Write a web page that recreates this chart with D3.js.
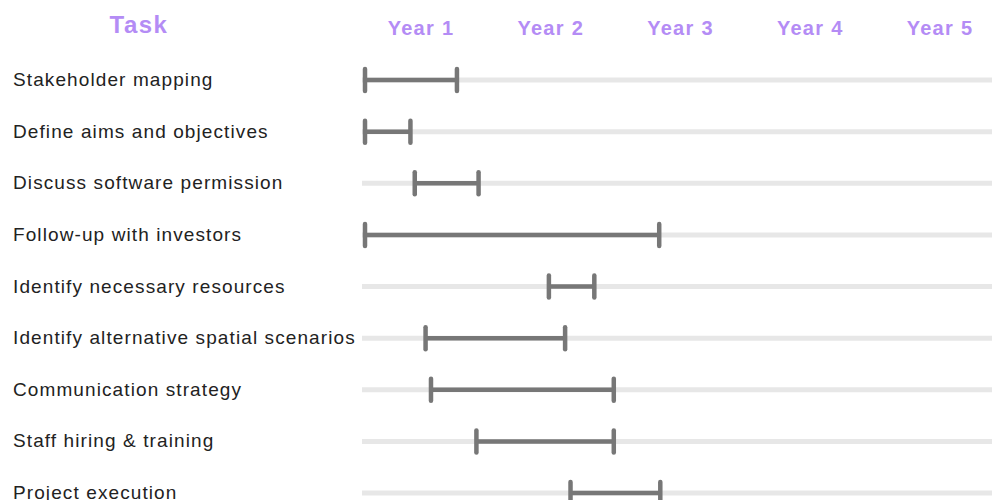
<!DOCTYPE html>
<html>
<head>
<meta charset="utf-8">
<script src="https://cdn.jsdelivr.net/npm/d3@7"></script>
<style>
  html, body { margin: 0; padding: 0; background: #ffffff; }
  svg { display: block; }
</style>
</head>
<body>
<script>
// ---- data ----
const tasks = [
  "Stakeholder mapping",
  "Define aims and objectives",
  "Discuss software permission",
  "Follow-up with investors",
  "Identify necessary resources",
  "Identify alternative spatial scenarios",
  "Communication strategy",
  "Staff hiring & training",
  "Project execution"
];
// start / end in months from project start
const startMonth = [0, 0, 4.6, 0, 17.0, 5.6, 6.1, 10.3, 19.0];
const endMonth   = [8.5, 4.2, 10.5, 27.2, 21.2, 18.5, 23.0, 23.0, 27.3];
const years = ["Year 1", "Year 2", "Year 3", "Year 4", "Year 5"];
const headerTitle = "Task";

// ---- layout ----
const W = 992, H = 500;
const svg = d3.select("body").append("svg").attr("width", W).attr("height", H);

const x = d3.scaleLinear().domain([0, 60]).range([365, 1014]);
const y = d3.scalePoint().domain(tasks).range([80, 493]);
const xYear = d3.scalePoint().domain(years).range([421, 940]);

const purple = "#b48cf5";

// header
svg.append("text")
  .attr("x", 139).attr("y", 33)
  .attr("text-anchor", "middle")
  .attr("font-family", "Liberation Sans, Arial, sans-serif")
  .attr("font-weight", "bold")
  .attr("font-size", 24)
  .attr("letter-spacing", 1.5)
  .attr("fill", purple)
  .text(headerTitle);

svg.append("g").selectAll("text").data(years).join("text")
  .attr("x", d => xYear(d)).attr("y", 35)
  .attr("text-anchor", "middle")
  .attr("font-family", "Liberation Sans, Arial, sans-serif")
  .attr("font-weight", "bold")
  .attr("font-size", 20)
  .attr("letter-spacing", 1.3)
  .attr("fill", purple)
  .text(d => d);

// tracks
svg.append("g").selectAll("line").data(tasks).join("line")
  .attr("x1", x(0) - 3).attr("x2", W)
  .attr("y1", d => y(d)).attr("y2", d => y(d))
  .attr("stroke", "#e7e7e7").attr("stroke-width", 5);

// labels
svg.append("g").selectAll("text").data(tasks).join("text")
  .attr("x", 13).attr("y", d => y(d) + 6)
  .attr("font-family", "Liberation Sans, Arial, sans-serif")
  .attr("font-size", 19)
  .attr("letter-spacing", 1.1)
  .attr("fill", "#222")
  .text(d => d);

// bars
const rows = tasks.map((t, i) => ({ task: t, s: startMonth[i], e: endMonth[i] }));
const g = svg.append("g").selectAll("g").data(rows).join("g");
g.append("line")
  .attr("x1", d => x(d.s)).attr("x2", d => x(d.e))
  .attr("y1", d => y(d.task)).attr("y2", d => y(d.task))
  .attr("stroke", "#777").attr("stroke-width", 4.5);
["s", "e"].forEach(k => {
  g.append("line")
    .attr("x1", d => x(d[k])).attr("x2", d => x(d[k]))
    .attr("y1", d => y(d.task) - 11).attr("y2", d => y(d.task) + 11)
    .attr("stroke", "#777").attr("stroke-width", 4.5)
    .attr("stroke-linecap", "round");
});
</script>
</body>
</html>
